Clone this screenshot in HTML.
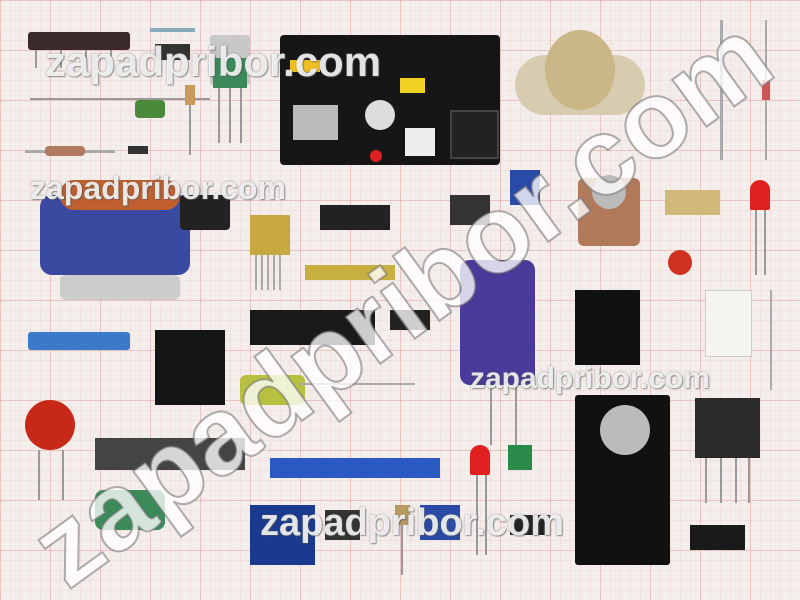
<!DOCTYPE html>
<html><head><meta charset="utf-8"><style>
html,body{margin:0;padding:0;width:800px;height:600px;overflow:hidden}
body{position:relative;
background-color:#f3eeeb;
background-image:
linear-gradient(rgba(220,140,140,.35) 1px,transparent 1px),
linear-gradient(90deg,rgba(220,140,140,.35) 1px,transparent 1px),
linear-gradient(rgba(230,180,180,.22) 1px,transparent 1px),
linear-gradient(90deg,rgba(230,180,180,.22) 1px,transparent 1px);
background-size:50px 50px,50px 50px,10px 10px,10px 10px;
font-family:"Liberation Sans",sans-serif}
.a{position:absolute}
.leg{position:absolute;width:2px;background:#999}
.wm{position:absolute;color:rgba(255,255,255,.85);font-weight:bold;white-space:nowrap;
text-shadow:0 0 2px rgba(90,90,90,.6),1px 1px 1px rgba(80,80,80,.5)}
#clip{position:absolute;left:0;top:0;width:800px;height:600px;overflow:hidden}
</style></head><body><div id="clip">
<div class="a" style="left:28px;top:32px;width:102px;height:18px;background:#3a2a2a;border-radius:3px"></div>
<div class="leg" style="left:35px;top:50px;height:18px"></div><div class="leg" style="left:60px;top:50px;height:18px"></div><div class="leg" style="left:85px;top:50px;height:18px"></div><div class="leg" style="left:110px;top:50px;height:18px"></div>
<div class="a" style="left:150px;top:28px;width:45px;height:4px;background:#8ab"></div>
<div class="a" style="left:155px;top:44px;width:35px;height:16px;background:#333"></div>
<div class="a" style="left:30px;top:98px;width:180px;height:2px;background:#999"></div>
<div class="a" style="left:135px;top:100px;width:30px;height:18px;background:#4a8a3a;border-radius:4px"></div>
<div class="a" style="left:185px;top:85px;width:10px;height:20px;background:#c99a5a"></div>
<div class="leg" style="left:189px;top:105px;height:50px"></div>
<div class="a" style="left:25px;top:150px;width:90px;height:3px;background:#aaa"></div>
<div class="a" style="left:45px;top:146px;width:40px;height:10px;background:#b07a60;border-radius:4px"></div>
<div class="a" style="left:128px;top:146px;width:20px;height:8px;background:#333"></div>
<div class="a" style="left:210px;top:35px;width:40px;height:50px;background:#c8c8c8;border-radius:3px"></div>
<div class="a" style="left:213px;top:58px;width:34px;height:30px;background:#3c8a5a"></div>
<div class="leg" style="left:218px;top:88px;height:55px"></div><div class="leg" style="left:229px;top:88px;height:55px"></div><div class="leg" style="left:240px;top:88px;height:55px"></div>
<div class="a" style="left:280px;top:35px;width:220px;height:130px;background:#161616;border-radius:4px"></div>
<div class="a" style="left:293px;top:105px;width:45px;height:35px;background:#bbb"></div>
<div class="a" style="left:365px;top:100px;width:30px;height:30px;background:#ddd;border-radius:50%"></div>
<div class="a" style="left:405px;top:128px;width:30px;height:28px;background:#eee"></div>
<div class="a" style="left:450px;top:110px;width:45px;height:45px;background:#222;border:2px solid #444"></div>
<div class="a" style="left:370px;top:150px;width:12px;height:12px;background:#d22;border-radius:50%"></div>
<div class="a" style="left:290px;top:60px;width:30px;height:12px;background:#f0c020"></div>
<div class="a" style="left:400px;top:78px;width:25px;height:15px;background:#f0d020"></div>
<div class="a" style="left:515px;top:55px;width:130px;height:60px;background:#d8ccb0;border-radius:30px"></div>
<div class="a" style="left:545px;top:30px;width:70px;height:80px;background:#c9b788;border-radius:50%"></div>
<div class="a" style="left:720px;top:20px;width:3px;height:140px;background:#aaa"></div>
<div class="a" style="left:765px;top:20px;width:2px;height:140px;background:#aaa"></div>
<div class="a" style="left:762px;top:80px;width:8px;height:20px;background:#c55"></div>
<div class="a" style="left:40px;top:195px;width:150px;height:80px;background:#3a4aa0;border-radius:12px"></div>
<div class="a" style="left:60px;top:180px;width:120px;height:30px;background:#c06030;border-radius:14px"></div>
<div class="a" style="left:180px;top:195px;width:50px;height:35px;background:#222;border-radius:4px"></div>
<div class="a" style="left:60px;top:275px;width:120px;height:25px;background:#ccc;border-radius:6px"></div>
<div class="a" style="left:250px;top:215px;width:40px;height:40px;background:#c8a840"></div>
<div class="a" style="left:255px;top:255px;width:30px;height:35px;background:repeating-linear-gradient(90deg,#aaa 0 2px,transparent 2px 6px)"></div>
<div class="a" style="left:320px;top:205px;width:70px;height:25px;background:#222"></div>
<div class="a" style="left:305px;top:265px;width:90px;height:15px;background:#c8b040"></div>
<div class="a" style="left:450px;top:195px;width:40px;height:30px;background:#333"></div>
<div class="a" style="left:510px;top:170px;width:30px;height:35px;background:#2a4aa8"></div>
<div class="a" style="left:578px;top:178px;width:62px;height:68px;background:#b07a5a;border-radius:6px"></div>
<div class="a" style="left:592px;top:175px;width:34px;height:34px;background:#bbb;border-radius:50%"></div>
<div class="a" style="left:665px;top:190px;width:55px;height:25px;background:#d0b878"></div>
<div class="a" style="left:750px;top:180px;width:20px;height:30px;background:#e02020;border-radius:10px 10px 2px 2px"></div>
<div class="leg" style="left:755px;top:210px;height:65px"></div><div class="leg" style="left:764px;top:210px;height:65px"></div>
<div class="a" style="left:668px;top:250px;width:24px;height:25px;background:#d03020;border-radius:50%"></div>
<div class="a" style="left:460px;top:260px;width:75px;height:125px;background:#4a3a9a;border-radius:10px"></div>
<div class="leg" style="left:490px;top:385px;height:60px"></div><div class="leg" style="left:515px;top:385px;height:60px"></div>
<div class="a" style="left:575px;top:290px;width:65px;height:75px;background:#111"></div>
<div class="a" style="left:705px;top:290px;width:45px;height:65px;background:#f4f4f0;border:1px solid #ccc"></div>
<div class="a" style="left:770px;top:290px;width:2px;height:100px;background:#aaa"></div>
<div class="a" style="left:28px;top:332px;width:102px;height:18px;background:#3a7ac8;border-radius:3px"></div>
<div class="a" style="left:250px;top:310px;width:125px;height:35px;background:#1a1a1a"></div>
<div class="a" style="left:390px;top:310px;width:40px;height:20px;background:#222"></div>
<div class="a" style="left:155px;top:330px;width:70px;height:75px;background:#151515"></div>
<div class="a" style="left:240px;top:375px;width:65px;height:30px;background:#b8c040;border-radius:6px"></div>
<div class="a" style="left:300px;top:383px;width:115px;height:2px;background:#aaa"></div>
<div class="a" style="left:25px;top:400px;width:50px;height:50px;background:#c82818;border-radius:50%"></div>
<div class="leg" style="left:38px;top:450px;height:50px"></div><div class="leg" style="left:62px;top:450px;height:50px"></div>
<div class="a" style="left:95px;top:438px;width:150px;height:32px;background:#444"></div>
<div class="a" style="left:270px;top:458px;width:170px;height:20px;background:#2a5ac0"></div>
<div class="a" style="left:470px;top:445px;width:20px;height:30px;background:#e02020;border-radius:10px 10px 2px 2px"></div>
<div class="leg" style="left:476px;top:475px;height:80px"></div><div class="leg" style="left:485px;top:475px;height:80px"></div>
<div class="a" style="left:508px;top:445px;width:24px;height:25px;background:#2a8a4a"></div>
<div class="a" style="left:575px;top:395px;width:95px;height:170px;background:#111;border-radius:3px"></div>
<div class="a" style="left:600px;top:405px;width:50px;height:50px;background:#bbb;border-radius:50%"></div>
<div class="a" style="left:695px;top:398px;width:65px;height:60px;background:#2a2a2a"></div>
<div class="leg" style="left:705px;top:458px;height:45px"></div><div class="leg" style="left:720px;top:458px;height:45px"></div><div class="leg" style="left:735px;top:458px;height:45px"></div><div class="leg" style="left:748px;top:458px;height:45px"></div>
<div class="a" style="left:95px;top:490px;width:70px;height:40px;background:#3a8a5a;border-radius:8px"></div>
<div class="a" style="left:250px;top:505px;width:65px;height:60px;background:#1a3a90"></div>
<div class="a" style="left:325px;top:510px;width:35px;height:30px;background:#333"></div>
<div class="a" style="left:395px;top:505px;width:15px;height:20px;background:#b89a60"></div>
<div class="leg" style="left:401px;top:525px;height:50px"></div>
<div class="a" style="left:420px;top:505px;width:40px;height:35px;background:#2a4aa8"></div>
<div class="a" style="left:510px;top:515px;width:40px;height:20px;background:#222"></div>
<div class="a" style="left:690px;top:525px;width:55px;height:25px;background:#1a1a1a"></div>
<div class="wm" style="left:45px;top:38px;font-size:42px">zapadpribor.com</div>
<div class="wm" style="left:30px;top:170px;font-size:32px">zapadpribor.com</div>
<div class="wm" style="left:470px;top:362px;font-size:30px">zapadpribor.com</div>
<div class="wm" style="left:260px;top:502px;font-size:38px">zapadpribor.com</div>
<svg class="a" style="left:0;top:0" width="800" height="600" viewBox="0 0 800 600">
<text x="400" y="340" text-anchor="middle" font-family="Liberation Sans, sans-serif" font-weight="bold" font-size="110" fill="rgba(255,255,255,0.78)" stroke="rgba(110,110,110,0.55)" stroke-width="2" transform="rotate(-36 400 300)">zapadpribor.com</text>
</svg>
</div></body></html>
